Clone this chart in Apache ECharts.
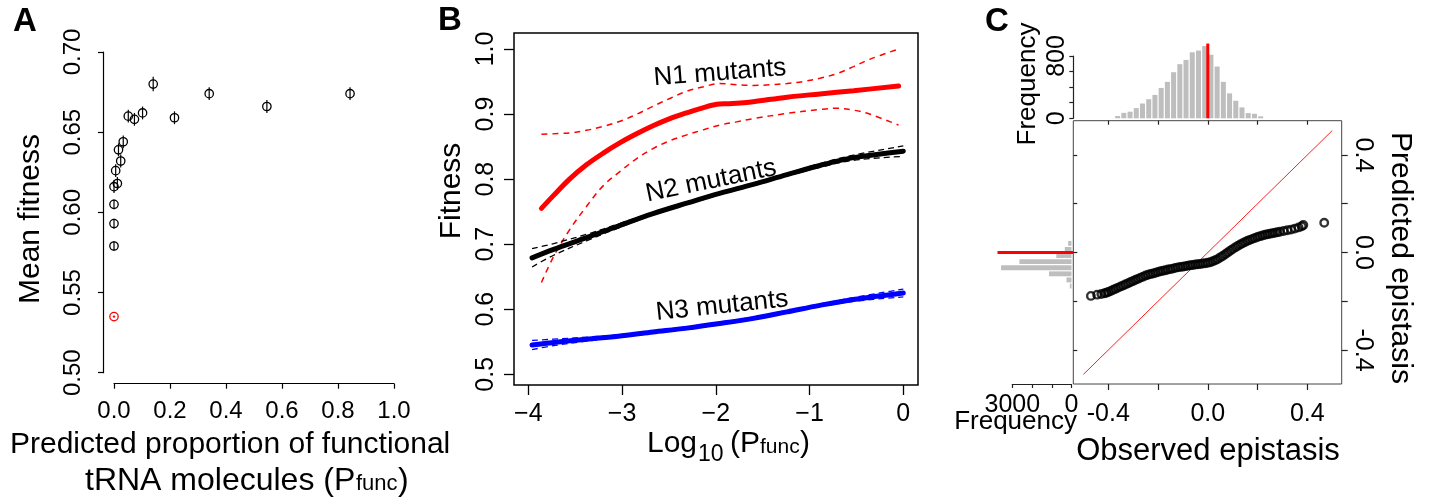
<!DOCTYPE html>
<html><head><meta charset="utf-8">
<script src="https://cdn.jsdelivr.net/npm/echarts@6/dist/echarts.min.js"></script>
<style>html,body{margin:0;padding:0;background:#fff}#c{width:1429px;height:503px}</style>
</head><body><div id="c"></div>
<script>
// ---------- Panel A data ----------
const aX   = [0.140, 0.340, 0.546, 0.843, 0.051, 0.073, 0.102, 0.216, 0.033, 0.016, 0.024, 0.006, 0.012, 0.000, 0.000, 0.000, 0.000];
const aY   = [0.680, 0.674, 0.666, 0.674, 0.660, 0.658, 0.662, 0.659, 0.644, 0.639, 0.632, 0.626, 0.618, 0.616, 0.605, 0.593, 0.579];
const aErr = [0.0045,0.004, 0.004, 0.004, 0.004, 0.004, 0.004, 0.004, 0.004, 0.004, 0.004, 0.004, 0.004, 0.004, 0.003, 0.003, 0.003];
const aRedX = [0.000];
const aRedY = [0.535];
const aXTicks = ['0.0','0.2','0.4','0.6','0.8','1.0'];

// ---------- Panel B data ----------
const n1X     = [-3.86,-3.73,-3.56,-3.38,-3.20,-3.02,-2.84,-2.67,-2.49,-2.31,-2.13,-1.99,-1.88,-1.74,-1.60,-1.24,-0.89,-0.53,-0.05];
const n1Fit   = [0.755,0.775,0.800,0.822,0.840,0.856,0.870,0.882,0.893,0.902,0.910,0.915,0.916,0.917,0.919,0.926,0.931,0.936,0.943];
const n1UpX   = [-3.86,-3.56,-3.38,-3.20,-3.02,-2.84,-2.67,-2.49,-2.31,-2.13,-1.96,-1.78,-1.60,-1.42,-1.24,-1.07,-0.89,-0.71,-0.53,-0.36,-0.05];
const n1Up    = [0.869,0.871,0.875,0.881,0.889,0.900,0.912,0.924,0.935,0.942,0.947,0.945,0.944,0.945,0.947,0.950,0.955,0.962,0.973,0.984,1.000];
const n1LoX   = [-3.86,-3.73,-3.56,-3.38,-3.20,-3.02,-2.84,-2.67,-2.49,-2.31,-2.13,-1.96,-1.78,-1.60,-1.24,-0.89,-0.71,-0.53,-0.36,-0.05];
const n1Lo    = [0.641,0.681,0.722,0.758,0.790,0.812,0.832,0.847,0.859,0.868,0.876,0.883,0.888,0.893,0.901,0.907,0.909,0.906,0.900,0.883];
const nX      = [-3.96,-3.73,-3.38,-3.02,-2.67,-2.31,-1.96,-1.60,-1.24,-0.89,-0.53,0.00];
const n2Fit   = [0.679,0.692,0.710,0.729,0.747,0.763,0.778,0.792,0.807,0.821,0.833,0.843];
const n2Up    = [0.693,0.701,0.715,0.732,0.749,0.765,0.780,0.794,0.809,0.824,0.837,0.851];
const n2Lo    = [0.665,0.683,0.705,0.726,0.745,0.761,0.776,0.790,0.805,0.818,0.829,0.835];
const n3Fit   = [0.545,0.549,0.554,0.559,0.565,0.571,0.578,0.586,0.596,0.606,0.615,0.625];
const n3Up    = [0.552,0.554,0.557,0.561,0.567,0.573,0.580,0.588,0.598,0.608,0.618,0.631];
const n3Lo    = [0.538,0.544,0.551,0.557,0.563,0.569,0.576,0.584,0.594,0.604,0.612,0.619];

// ---------- Panel C data ----------
const cObs  = [-0.470,-0.445,-0.428,-0.415,-0.408,
  -0.40,-0.39,-0.38,-0.37,-0.36,-0.35,-0.34,-0.33,-0.32,-0.31,-0.30,-0.29,-0.28,-0.27,-0.26,-0.25,-0.24,-0.23,-0.22,-0.21,
  -0.20,-0.19,-0.18,-0.17,-0.16,-0.15,-0.14,-0.13,-0.12,-0.11,-0.10,-0.09,-0.08,-0.07,-0.06,-0.05,-0.04,-0.03,-0.02,-0.01,
  0.00,0.01,0.02,0.03,0.04,0.05,0.06,0.07,0.08,0.09,0.10,0.11,0.12,0.13,0.14,0.15,0.16,0.17,0.18,0.19,0.20,0.21,0.22,0.23,0.24,0.25,0.26,0.27,
  0.28,0.29,0.305,0.32,0.335,0.35,0.365,0.378,0.384,0.468];
const cPred = [-0.178,-0.173,-0.170,-0.167,-0.165,
  -0.162,-0.158,-0.153,-0.149,-0.144,-0.139,-0.135,-0.130,-0.126,-0.121,-0.117,-0.112,-0.108,-0.103,-0.099,-0.094,-0.091,-0.088,-0.086,-0.083,
  -0.080,-0.077,-0.075,-0.073,-0.070,-0.068,-0.066,-0.063,-0.061,-0.059,-0.058,-0.056,-0.054,-0.052,-0.051,-0.049,-0.048,-0.047,-0.045,-0.044,
  -0.042,-0.040,-0.036,-0.032,-0.027,-0.020,-0.014,-0.007,0.000,0.007,0.014,0.021,0.027,0.033,0.038,0.043,0.048,0.052,0.056,0.060,0.064,0.067,0.070,0.073,0.075,0.077,0.079,0.081,
  0.083,0.085,0.088,0.091,0.094,0.098,0.103,0.108,0.113,0.122];
const topBins   = [-0.3625,-0.3375,-0.3125,-0.2875,-0.2625,-0.2375,-0.2125,-0.1875,-0.1625,-0.1375,-0.1125,-0.0875,-0.0625,-0.0375,-0.0125,0.0125,0.0375,0.0625,0.0875,0.1125,0.1375,0.1625,0.1875,0.2125];
const topCounts = [30,70,85,131,190,245,300,390,468,592,695,750,848,870,928,816,664,468,320,225,140,67,58,25];
const leftBins   = [0.0375,0.0125,-0.0125,-0.0375,-0.0625,-0.0875,-0.1125,-0.1375];
const leftCounts = [170,340,770,2640,3570,1140,255,85];
const binWidth = 0.025;
// reference segments: [x0, y0, x1, y1]
const topMark  = [0, 0, 0, 960];
const leftMark = [-90, 0, 3750, 0];
const diagLine = [-0.5, -0.5, 0.5, 0.5];
const cTicks = [-0.4,-0.2,0,0.2,0.4];
const cTickLabels = ['-0.4','','0.0','','0.4'];
const topHistTicks = [0,200,400,600,800];
const topHistLabels = ['0','','','','800'];
const leftHistTicks = [0,1000,2000,3000];
const leftHistLabels = ['0','','','3000'];

// ---------- helpers ----------
const FONT = '"Liberation Sans", Arial, Helvetica, sans-serif';
const zip = (xs, ys) => xs.map((x, i) => [x, ys[i]]);
function pick(ticks, labels) {
  return v => { const i = ticks.findIndex(t => Math.abs(t - v) < 1e-6); return i < 0 ? '' : labels[i]; };
}
function T(x, y, text, size, o) {
  o = o || {};
  return { type: 'text', x: x, y: y, rotation: o.rot || 0, silent: true,
    style: { text: text, font: (o.bold ? 'bold ' : '') + size + 'px ' + FONT, fill: o.color || '#000',
      align: o.align || 'center', verticalAlign: 'middle', textAlign: o.align || 'center', textVerticalAlign: 'middle' } };
}
const noSplit = { show: false };
function axLab(size, extra) { return Object.assign({ fontSize: size, color: '#000', fontFamily: FONT }, extra || {}); }
function line(show, color, width) { return { show: show, onZero: false, lineStyle: { color: color || '#000', width: width || 1.2 } }; }
const hiddenX = (g) => ({ gridIndex: g, type: 'value', min: 0, max: 1, show: false, axisLine: { onZero: false } });
const hiddenY = (g) => ({ gridIndex: g, type: 'value', min: 0, max: 1, show: false, axisLine: { onZero: false } });
function segSeries(xi, yi, seg, color, width) {
  return { type: 'custom', xAxisIndex: xi, yAxisIndex: yi, silent: true, clip: false, data: [seg],
    renderItem: function (params, api) {
      const a = api.coord([api.value(0), api.value(1)]);
      const b = api.coord([api.value(2), api.value(3)]);
      return { type: 'line', shape: { x1: a[0], y1: a[1], x2: b[0], y2: b[1] }, style: { stroke: color, lineWidth: width } };
    } };
}

const chart = echarts.init(document.getElementById('c'), null, { renderer: 'canvas' });

const option = {
  animation: false,
  backgroundColor: '#fff',
  textStyle: { fontFamily: FONT },
  grid: [
    { left: 114, top: 52, width: 280, height: 320.7 },                 // 0 A
    { left: 528.3, top: 49, width: 375, height: 325.3 },               // 1 B data
    { left: 514, top: 33, width: 404, height: 352, show: true, borderColor: '#000', borderWidth: 1.5, backgroundColor: 'transparent' }, // 2 B frame
    { left: 1108.3, top: 155, width: 199, height: 195 },               // 3 C data
    { left: 1073.3, top: 120.7, width: 268.4, height: 263.3, show: true, borderColor: '#444', borderWidth: 1, backgroundColor: 'transparent' }, // 4 C frame
    { left: 1108.3, top: 56, width: 199, height: 62.3 },               // 5 top hist
    { left: 1012.3, top: 155, width: 59.2, height: 195 }               // 6 left hist
  ],
  xAxis: [
    { gridIndex: 0, type: 'value', min: 0, max: 1, interval: 0.2, offset: 11,
      axisLine: line(true, '#000', 1.2),
      axisTick: { show: true, length: 5, lineStyle: { color: '#000', width: 1.2 } },
      axisLabel: axLab(24, { margin: 16, formatter: v => aXTicks[Math.round(v * 5)] }), splitLine: noSplit },
    { gridIndex: 1, type: 'value', min: -4, max: 0, interval: 1, offset: 10.7,
      axisLine: line(false),
      axisTick: { show: true, length: 10, lineStyle: { color: '#000', width: 1.3 } },
      axisLabel: axLab(25, { margin: 17, formatter: v => v === 0 ? '0' : '\u2212' + Math.abs(v) }), splitLine: noSplit },
    hiddenX(2),
    { gridIndex: 3, type: 'value', position: 'bottom', min: -0.4, max: 0.4, interval: 0.2, offset: 34,
      axisLine: line(false),
      axisTick: { show: true, length: 6, lineStyle: { color: '#222', width: 1.2 } },
      axisLabel: axLab(25, { margin: 18, showMinLabel: true, showMaxLabel: true, formatter: pick(cTicks, cTickLabels) }), splitLine: noSplit },
    { gridIndex: 3, type: 'value', position: 'top', min: -0.4, max: 0.4, interval: 0.2, offset: 34.3,
      axisLine: line(false),
      axisTick: { show: true, inside: true, length: 4, lineStyle: { color: '#222', width: 1.2 } },
      axisLabel: { show: false }, splitLine: noSplit },
    hiddenX(4),
    { gridIndex: 5, type: 'value', min: -0.4, max: 0.4, show: false, axisLine: { onZero: false } },
    { gridIndex: 6, type: 'value', min: 0, max: 3000, interval: 1000, inverse: true, position: 'bottom', offset: 34,
      axisLine: line(true, '#222', 1.2),
      axisTick: { show: true, length: 4, lineStyle: { color: '#222', width: 1.2 } },
      axisLabel: axLab(25, { margin: 9, showMinLabel: true, showMaxLabel: true, formatter: pick(leftHistTicks, leftHistLabels) }), splitLine: noSplit }
  ],
  yAxis: [
    { gridIndex: 0, type: 'value', min: 0.5, max: 0.7, interval: 0.05, offset: 11,
      axisLine: line(true, '#000', 1.2),
      axisTick: { show: true, length: 5, lineStyle: { color: '#000', width: 1.2 } },
      axisLabel: axLab(24, { margin: 18, rotate: 90, formatter: v => v.toFixed(2) }), splitLine: noSplit },
    { gridIndex: 1, type: 'value', min: 0.5, max: 1.0, interval: 0.1, offset: 14.3,
      axisLine: line(false),
      axisTick: { show: true, length: 10, lineStyle: { color: '#000', width: 1.3 } },
      axisLabel: axLab(25, { margin: 15, rotate: 90, formatter: v => v.toFixed(1) }), splitLine: noSplit },
    hiddenY(2),
    { gridIndex: 3, type: 'value', position: 'right', min: -0.4, max: 0.4, interval: 0.2, offset: 34.4,
      axisLine: line(false),
      axisTick: { show: true, length: 6, lineStyle: { color: '#222', width: 1.2 } },
      axisLabel: axLab(25, { margin: 9, rotate: -90, showMinLabel: true, showMaxLabel: true, formatter: pick(cTicks, cTickLabels) }), splitLine: noSplit },
    { gridIndex: 3, type: 'value', position: 'left', min: -0.4, max: 0.4, interval: 0.2, offset: 35,
      axisLine: line(false),
      axisTick: { show: true, inside: true, length: 4, lineStyle: { color: '#222', width: 1.2 } },
      axisLabel: { show: false }, splitLine: noSplit },
    hiddenY(4),
    { gridIndex: 5, type: 'value', min: 0, max: 800, interval: 200, offset: 35,
      axisLine: line(true, '#222', 1.2),
      axisTick: { show: true, length: 4, lineStyle: { color: '#222', width: 1.2 } },
      axisLabel: axLab(25, { margin: 4, rotate: 90, showMinLabel: true, showMaxLabel: true, formatter: pick(topHistTicks, topHistLabels) }), splitLine: noSplit },
    { gridIndex: 6, type: 'value', min: -0.4, max: 0.4, show: false, axisLine: { onZero: false } }
  ],
  series: [
    // Panel A points with error bars
    { type: 'custom', xAxisIndex: 0, yAxisIndex: 0, silent: true, clip: false,
      data: aX.map((x, i) => [x, aY[i], aErr[i]]),
      renderItem: function (params, api) {
        const c = api.coord([api.value(0), api.value(1)]);
        const hi = api.coord([api.value(0), api.value(1) + api.value(2)]);
        const lo = api.coord([api.value(0), api.value(1) - api.value(2)]);
        return { type: 'group', children: [
          { type: 'line', shape: { x1: c[0], y1: hi[1], x2: c[0], y2: lo[1] }, style: { stroke: '#000', lineWidth: 1.2 } },
          { type: 'circle', shape: { cx: c[0], cy: c[1], r: 4.2 }, style: { fill: null, stroke: '#000', lineWidth: 1.3 } }
        ] };
      } },
    { type: 'custom', xAxisIndex: 0, yAxisIndex: 0, silent: true, clip: false,
      data: zip(aRedX, aRedY),
      renderItem: function (params, api) {
        const c = api.coord([api.value(0), api.value(1)]);
        return { type: 'group', children: [
          { type: 'circle', shape: { cx: c[0], cy: c[1], r: 4.2 }, style: { fill: null, stroke: '#ff0000', lineWidth: 1.3 } },
          { type: 'circle', shape: { cx: c[0], cy: c[1], r: 1.2 }, style: { fill: '#ff0000' } }
        ] };
      } },
    // Panel B
    { type: 'line', xAxisIndex: 1, yAxisIndex: 1, data: zip(n1UpX, n1Up), smooth: 0.35, symbol: 'none', silent: true,
      lineStyle: { color: '#ff0000', width: 1.5, type: [6, 5] } },
    { type: 'line', xAxisIndex: 1, yAxisIndex: 1, data: zip(n1LoX, n1Lo), smooth: 0.35, symbol: 'none', silent: true,
      lineStyle: { color: '#ff0000', width: 1.5, type: [6, 5] } },
    { type: 'line', xAxisIndex: 1, yAxisIndex: 1, data: zip(nX, n2Up), smooth: 0.35, symbol: 'none', silent: true,
      lineStyle: { color: '#000', width: 1.3, type: [6, 4] } },
    { type: 'line', xAxisIndex: 1, yAxisIndex: 1, data: zip(nX, n2Lo), smooth: 0.35, symbol: 'none', silent: true,
      lineStyle: { color: '#000', width: 1.3, type: [6, 4] } },
    { type: 'line', xAxisIndex: 1, yAxisIndex: 1, data: zip(nX, n3Up), smooth: 0.35, symbol: 'none', silent: true,
      lineStyle: { color: '#0000ff', width: 1.3, type: [6, 4] } },
    { type: 'line', xAxisIndex: 1, yAxisIndex: 1, data: zip(nX, n3Lo), smooth: 0.35, symbol: 'none', silent: true,
      lineStyle: { color: '#0000ff', width: 1.3, type: [6, 4] } },
    { type: 'line', xAxisIndex: 1, yAxisIndex: 1, data: zip(nX, n2Fit), smooth: 0.35, symbol: 'none', silent: true,
      lineStyle: { color: '#000', width: 5, cap: 'round' } },
    { type: 'line', xAxisIndex: 1, yAxisIndex: 1, data: zip(nX, n3Fit), smooth: 0.35, symbol: 'none', silent: true,
      lineStyle: { color: '#0000ff', width: 5, cap: 'round' } },
    { type: 'line', xAxisIndex: 1, yAxisIndex: 1, data: zip(n1X, n1Fit), smooth: 0.35, symbol: 'none', silent: true,
      lineStyle: { color: '#ff0000', width: 5, cap: 'round' } },
    // Panel C top histogram
    { type: 'custom', xAxisIndex: 6, yAxisIndex: 6, silent: true, clip: false,
      data: zip(topBins, topCounts),
      renderItem: function (params, api) {
        const x = api.value(0), n = api.value(1);
        const p0 = api.coord([x - binWidth / 2, 0]);
        const p1 = api.coord([x + binWidth / 2, n]);
        return { type: 'rect', shape: { x: p0[0] + 0.6, y: p1[1], width: p1[0] - p0[0] - 1.2, height: p0[1] - p1[1] }, style: { fill: '#bebebe' } };
      } },
    segSeries(6, 6, topMark, '#ff0000', 3),
    // Panel C left histogram
    { type: 'custom', xAxisIndex: 7, yAxisIndex: 7, silent: true, clip: false,
      data: zip(leftCounts, leftBins),
      renderItem: function (params, api) {
        const n = api.value(0), y = api.value(1);
        const p0 = api.coord([0, y - binWidth / 2]);
        const p1 = api.coord([n, y + binWidth / 2]);
        return { type: 'rect', shape: { x: p1[0], y: p1[1] + 0.6, width: p0[0] - p1[0], height: p0[1] - p1[1] - 1.2 }, style: { fill: '#bebebe' } };
      } },
    segSeries(7, 7, leftMark, '#ff0000', 3),
    // Panel C main
    { type: 'scatter', xAxisIndex: 3, yAxisIndex: 3, data: zip(cObs, cPred), symbol: 'circle', symbolSize: 7.5, clip: false, silent: true,
      itemStyle: { color: 'rgba(0,0,0,0)', borderColor: '#000', borderWidth: 2.4 } },
    segSeries(3, 3, diagLine, '#ff2020', 1)
  ],
  graphic: [
    T(25, 22, 'A', 33, { bold: true }),
    T(450, 21, 'B', 33, { bold: true }),
    T(997, 22, 'C', 33, { bold: true }),
    // Panel A titles
    T(31, 219, 'Mean fitness', 30, { rot: Math.PI / 2 }),
    T(10, 445, 'Predicted proportion of functional', 30, { align: 'left' }),
    T(85, 481, 'tRNA molecules (P', 32, { align: 'left' }),
    T(356, 484, 'func', 22, { align: 'left' }),
    T(398, 481, ')', 32, { align: 'left' }),
    // Panel B titles
    T(452, 191, 'Fitness', 30, { rot: Math.PI / 2 }),
    T(647, 444, 'Log', 30, { align: 'left' }),
    T(698, 455, '10', 23, { align: 'left' }),
    T(730, 444, '(P', 30, { align: 'left' }),
    T(760, 447, 'func', 21, { align: 'left' }),
    T(800, 444, ')', 30, { align: 'left' }),
    T(720, 73, 'N1 mutants', 26, { rot: 0.078 }),
    T(711, 181, 'N2 mutants', 26, { rot: 0.205 }),
    T(722, 306, 'N3 mutants', 26, { rot: 0.105 }),
    // Panel C titles
    T(1208, 451, 'Observed epistasis', 31),
    T(1400, 258, 'Predicted epistasis', 30, { rot: -Math.PI / 2 }),
    T(1028, 84, 'Frequency', 26, { rot: Math.PI / 2 }),
    T(1077, 422, 'Frequency', 26, { align: 'right' })
  ]
};
chart.setOption(option);
</script></body></html>
